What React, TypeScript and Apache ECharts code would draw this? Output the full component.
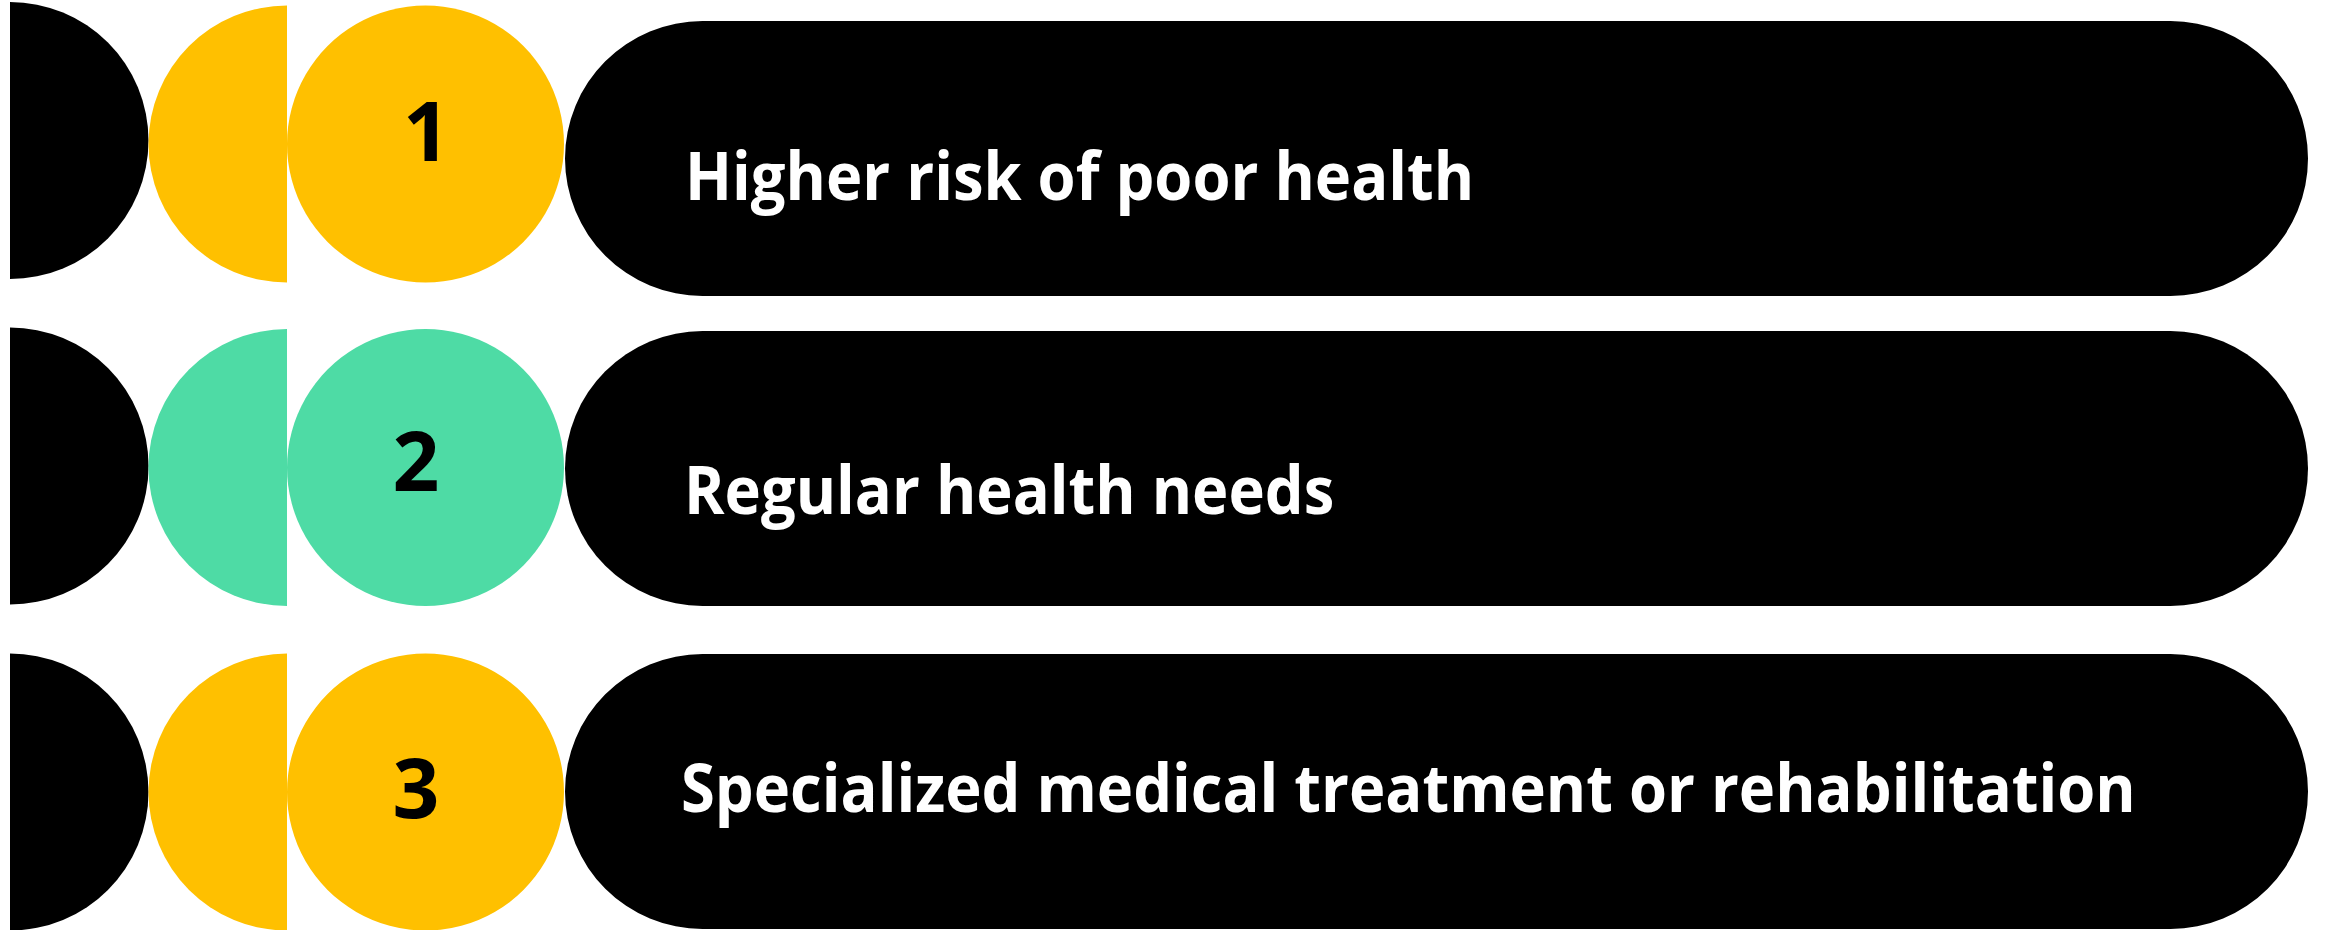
import React, { useEffect, useRef } from "react";
import * as echarts from "echarts";

// ---- content ----
const ITEM_NUMBERS = ["1", "2", "3"];
const ITEM_LABELS = [
  "Higher risk of poor health",
  "Regular health needs",
  "Specialized medical treatment or rehabilitation",
];
const ITEM_COLORS = ["#FFC000", "#4EDBA5", "#FFC000"];

// ---- layout (pixels) ----
const W = 2326;
const H = 930;
const R = 138.5;
const BLACK_X = 10;
const HALF_X = 287;
const CIRCLE_X = 425.5;
const PILL_X = 565;
const PILL_W = 1743;
const PILL_H = 275;
const BLACK_CY = [140.5, 466, 792];
const ROW_CY = [144, 467.5, 792];
const PILL_TOP = [21, 331, 654];
const NUM_X = [426.5, 416, 416];
const NUM_CY = [128.5, 459, 786];
const LABEL_X = [685, 684, 681];
const LABEL_CY = [175, 489, 786.5];
const LABEL_FONT = 66;
const LABEL_SCALE_X = 0.932;
const NUM_FONT = 82;
const FONT = "'Open Sans'";

function buildElements() {
  const els: any[] = [];
  ITEM_LABELS.forEach((label, i) => {
    els.push({
      type: "sector",
      shape: { cx: BLACK_X, cy: BLACK_CY[i], r: R, startAngle: -Math.PI / 2, endAngle: Math.PI / 2 },
      style: { fill: "#000000" },
    });
    els.push({
      type: "sector",
      shape: { cx: HALF_X, cy: ROW_CY[i], r: R, startAngle: Math.PI / 2, endAngle: (3 * Math.PI) / 2 },
      style: { fill: ITEM_COLORS[i] },
    });
    els.push({
      type: "circle",
      shape: { cx: CIRCLE_X, cy: ROW_CY[i], r: R },
      style: { fill: ITEM_COLORS[i] },
    });
    els.push({
      type: "rect",
      shape: { x: PILL_X, y: PILL_TOP[i], width: PILL_W, height: PILL_H, r: PILL_H / 2 },
      style: { fill: "#000000" },
    });
    els.push({
      type: "text",
      x: NUM_X[i],
      y: NUM_CY[i],
      style: {
        text: ITEM_NUMBERS[i],
        fill: "#000000",
        font: `bold ${NUM_FONT}px ${FONT}`,
        textAlign: "center",
        textVerticalAlign: "middle",
      },
    });
    els.push({
      type: "text",
      x: LABEL_X[i],
      y: LABEL_CY[i],
      scaleX: LABEL_SCALE_X,
      style: {
        text: label,
        fill: "#FFFFFF",
        font: `bold ${LABEL_FONT}px ${FONT}`,
        textAlign: "left",
        textVerticalAlign: "middle",
      },
    });
  });
  return els;
}

export default function App() {
  const ref = useRef<HTMLDivElement>(null);
  useEffect(() => {
    if (!ref.current) return;
    const chart = echarts.init(ref.current, undefined, { renderer: "svg" });
    chart.setOption({
      animation: false,
      backgroundColor: "#FFFFFF",
      graphic: { elements: buildElements() },
    });
    return () => chart.dispose();
  }, []);
  return (
    <div
      ref={ref}
      style={{ position: "absolute", left: 0, top: 0, width: W, height: H }}
    />
  );
}
